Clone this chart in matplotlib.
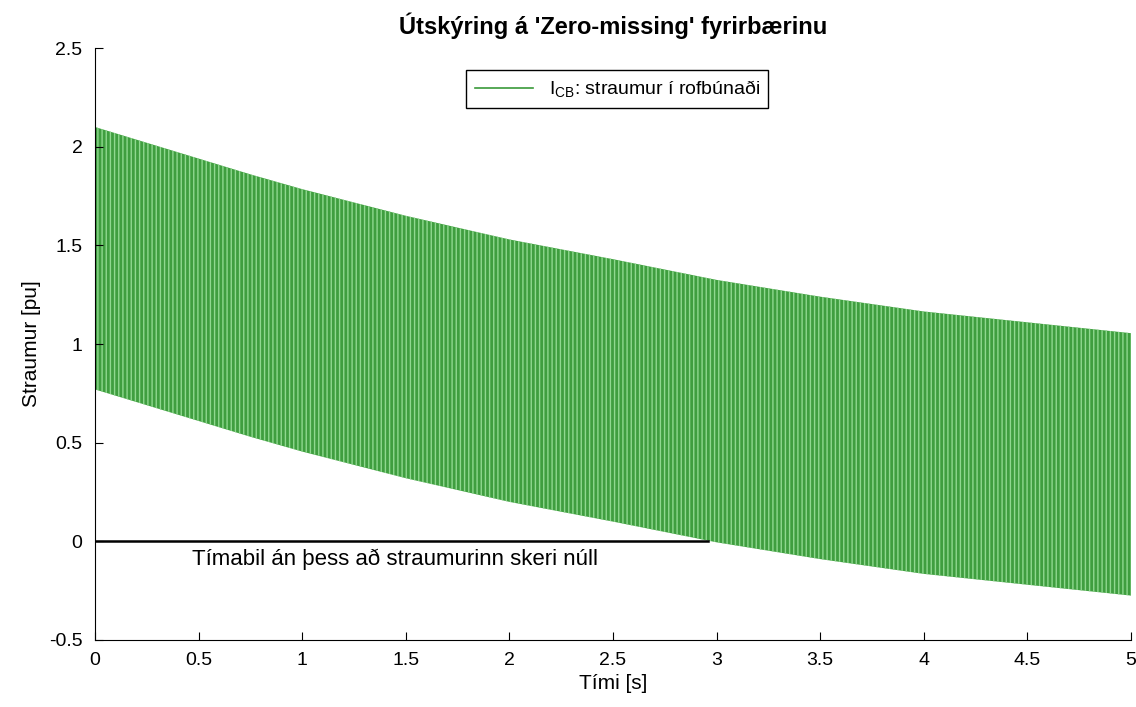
import numpy as np
import matplotlib
matplotlib.use("Agg")
import matplotlib.pyplot as plt
from matplotlib.lines import Line2D
from matplotlib.ticker import FormatStrFormatter

plt.rcParams['font.family'] = ['Liberation Sans', 'DejaVu Sans']
plt.rcParams['hatch.linewidth'] = 1.0
plt.rcParams['mathtext.fontset'] = 'custom'
plt.rcParams['mathtext.rm'] = 'Liberation Sans'

# Envelope of the breaker current (pu)
time_s = [0.0, 0.25, 0.5, 0.75, 1.0, 1.5, 2.0, 2.5, 3.0, 3.5, 4.0, 4.5, 5.0]
upper_pu = [2.10, 2.02, 1.94, 1.86, 1.785, 1.65, 1.53, 1.43, 1.325, 1.24, 1.165, 1.11, 1.055]
lower_pu = [0.77, 0.69, 0.61, 0.53, 0.455, 0.32, 0.20, 0.10, -0.005, -0.09, -0.165, -0.22, -0.275]

# Interval with no zero crossing
no_zero_start = 0.0
no_zero_end = 2.96

x_ticks = [0, 0.5, 1, 1.5, 2, 2.5, 3, 3.5, 4, 4.5, 5]
y_ticks = [-0.5, 0, 0.5, 1, 1.5, 2, 2.5]

fig = plt.figure(figsize=(11.36, 7.07), dpi=100)
ax = fig.add_axes([0.0836, 0.0948, 0.912, 0.8372])

# Dense 50 Hz oscillation shown as a striped band between the envelopes
ax.fill_between(time_s, lower_pu, upper_pu, facecolor='#3f9e3f',
                edgecolor='#8fd88f', hatch='||||', linewidth=0)

ax.plot([no_zero_start, no_zero_end], [0, 0], color='black', linewidth=1.8)
ax.text(0.47, -0.09, 'Tímabil án þess að straumurinn skeri núll',
        ha='left', va='center', fontsize=16)

ax.set_xlim(0, 5)
ax.set_ylim(-0.5, 2.5)
ax.set_xticks(x_ticks)
ax.set_yticks(y_ticks)
ax.xaxis.set_major_formatter(FormatStrFormatter('%g'))
ax.yaxis.set_major_formatter(FormatStrFormatter('%g'))
ax.tick_params(direction='in', labelsize=14, length=6)
ax.tick_params(axis='x', pad=9)
ax.tick_params(axis='y', pad=9)
ax.spines['top'].set_visible(False)
ax.spines['right'].set_visible(False)

ax.set_xlabel('Tími [s]', fontsize=15, labelpad=3)
ax.set_ylabel('Straumur [pu]', fontsize=15, labelpad=6)
ax.set_title("Útskýring á 'Zero-missing' fyrirbærinu", fontsize=17,
             fontweight='bold', pad=10)

handle = Line2D([], [], color='#3a9a3a', linewidth=1.2)
leg = ax.legend([handle], [r'$\mathrm{I_{CB}}$: straumur í rofbúnaði'],
                loc='upper center', bbox_to_anchor=(0.504, 0.98),
                fontsize=14, fancybox=False, framealpha=1, handlelength=3.0,
                borderpad=0.45)
leg.get_frame().set_edgecolor('black')

plt.savefig('out.png', dpi=100)
plt.close(fig)
